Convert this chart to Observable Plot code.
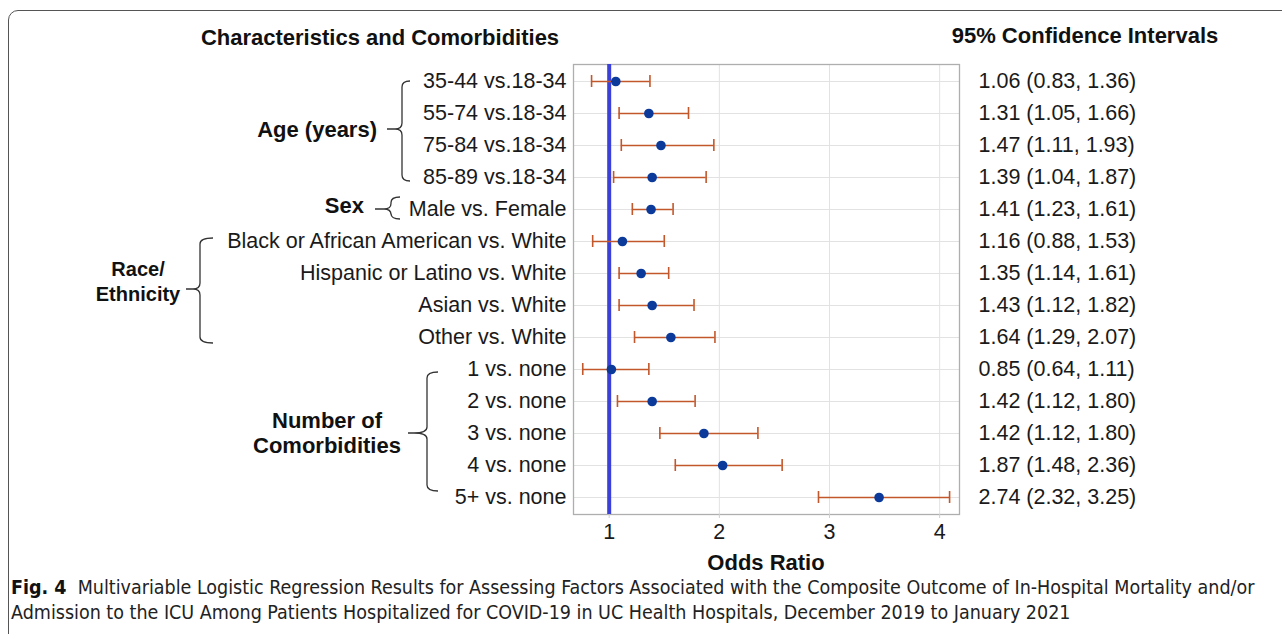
<!DOCTYPE html>
<html>
<head>
<meta charset="utf-8">
<script src="https://cdn.jsdelivr.net/npm/d3@7"></script>
<script src="https://cdn.jsdelivr.net/npm/@observablehq/plot@0.6"></script>
<style>
  html, body { margin: 0; padding: 0; background: #fff; }
  #wrap { position: relative; width: 1282px; height: 634px; overflow: hidden; }
  #border { position: absolute; left: 8px; top: 10px; width: 1400px; height: 700px;
            border: 1.3px solid #555; border-top-left-radius: 10px; box-sizing: border-box; }
  #chart { position: absolute; left: 0; top: 0; }
  #caption { position: absolute; left: 11px; top: 575px; width: 1270px; white-space: nowrap;
             font-family: "DejaVu Sans Condensed", "Liberation Sans Narrow", sans-serif;
             font-stretch: condensed; font-size: 19.5px; line-height: 25px; color: #222; }
  #caption b { color: #111; }
</style>
</head>
<body>
<div id="wrap">
  <div id="border"></div>
  <div id="chart"></div>
  <div id="caption"><b>Fig. 4</b>&nbsp; Multivariable Logistic Regression Results for Assessing Factors Associated with the Composite Outcome of In-Hospital Mortality and/or<br>Admission to the ICU Among Patients Hospitalized for COVID-19 in UC Health Hospitals, December 2019 to January 2021</div>
</div>
<script>
// ---- data ----
const rowLabels = [
  "35-44 vs.18-34", "55-74 vs.18-34", "75-84 vs.18-34", "85-89 vs.18-34",
  "Male vs. Female",
  "Black or African American vs. White", "Hispanic or Latino vs. White", "Asian vs. White", "Other vs. White",
  "1 vs. none", "2 vs. none", "3 vs. none", "4 vs. none", "5+ vs. none"
];
const oddsRatio = [1.06, 1.36, 1.47, 1.39, 1.38, 1.12, 1.29, 1.39, 1.56, 1.02, 1.39, 1.86, 2.03, 3.45];
const lowerCI   = [0.84, 1.09, 1.11, 1.04, 1.21, 0.85, 1.09, 1.09, 1.23, 0.76, 1.075, 1.46, 1.60, 2.90];
const upperCI   = [1.37, 1.72, 1.95, 1.88, 1.58, 1.50, 1.54, 1.77, 1.96, 1.36, 1.78, 2.35, 2.57, 4.09];
const ciText = [
  "1.06 (0.83, 1.36)", "1.31 (1.05, 1.66)", "1.47 (1.11, 1.93)", "1.39 (1.04, 1.87)",
  "1.41 (1.23, 1.61)",
  "1.16 (0.88, 1.53)", "1.35 (1.14, 1.61)", "1.43 (1.12, 1.82)", "1.64 (1.29, 2.07)",
  "0.85 (0.64, 1.11)", "1.42 (1.12, 1.80)", "1.42 (1.12, 1.80)", "1.87 (1.48, 2.36)", "2.74 (2.32, 3.25)"
];
const xTicks = [1, 2, 3, 4];
const groupNames = [["Age (years)"], ["Sex"], ["Race/", "Ethnicity"], ["Number of", "Comorbidities"]];
const groupFirst = [0, 4, 5, 9];
const groupLast  = [3, 4, 8, 13];

const data = rowLabels.map((label, i) => ({label, or: oddsRatio[i], lo: lowerCI[i], hi: upperCI[i], ci: ciText[i]}));

const whisker = "#c2572b";
const dotColor = "#0b3a9a";
const fontFam = "'Liberation Sans', Arial, Helvetica, sans-serif";
const fs = 21.5;

const plot = Plot.plot({
  width: 1282, height: 578,
  marginTop: 64, marginBottom: 64, marginLeft: 573, marginRight: 323,
  style: {fontFamily: fontFam, fontSize: fs + "px", color: "#1a1a1a", background: "transparent", overflow: "visible"},
  x: {domain: [0.676, 4.18], ticks: xTicks, tickFormat: d => String(d), label: null},
  y: {domain: rowLabels, type: "band", padding: 0, label: null},
  marks: [
    Plot.gridX(xTicks, {stroke: "#e2e2e2", strokeOpacity: 1}),
    Plot.gridY({stroke: "#e2e2e2", strokeOpacity: 1}),
    Plot.frame({stroke: "#aeaeae", strokeWidth: 1.3}),
    Plot.ruleX([1], {stroke: "#3b40d8", strokeWidth: 4}),
    Plot.ruleY(data, {y: "label", x1: "lo", x2: "hi", stroke: whisker, strokeWidth: 1.6}),
    Plot.tickX(data, {y: "label", x: "lo", stroke: whisker, strokeWidth: 1.6, insetTop: 10, insetBottom: 10}),
    Plot.tickX(data, {y: "label", x: "hi", stroke: whisker, strokeWidth: 1.6, insetTop: 10, insetBottom: 10}),
    Plot.dot(data, {y: "label", x: "or", r: 4.8, fill: dotColor, stroke: null}),
    Plot.axisX({ticks: xTicks, tickFormat: d => String(d), tickSize: 4, stroke: "#cfcfcf", fill: "#1a1a1a", tickPadding: 5, fontSize: fs, label: null}),
    Plot.axisY({tickSize: 0, tickPadding: 7, fontSize: fs, fill: "#1a1a1a", label: null}),
    Plot.text(data, {y: "label", text: "ci", frameAnchor: "right", dx: 19, textAnchor: "start", fontSize: fs, fill: "#1a1a1a"})
  ]
});
document.getElementById("chart").appendChild(plot);

// ---- annotations (headers, group labels, braces) ----
const svg = d3.select(plot);
const ys = plot.scale("y");
const yc = i => ys.apply(rowLabels[i]) + ys.bandwidth / 2;
const xs = plot.scale("x");

const ann = svg.append("g").attr("font-family", fontFam).attr("fill", "#111");
ann.append("text").attr("x", 380).attr("y", 37).attr("dy", "0.35em").attr("text-anchor", "middle")
  .attr("font-size", 22).attr("font-weight", "bold").text("Characteristics and Comorbidities");
ann.append("text").attr("x", 1085).attr("y", 35).attr("dy", "0.35em").attr("text-anchor", "middle")
  .attr("font-size", 22).attr("font-weight", "bold").text("95% Confidence Intervals");
ann.append("text").attr("x", (xs.range[0] + xs.range[1]) / 2).attr("y", 562).attr("dy", "0.35em")
  .attr("text-anchor", "middle").attr("font-size", 22).attr("font-weight", "bold").text("Odds Ratio");

// brace helper
function brace(xv, y0, y1, ym, xHook, xCusp, dashLen) {
  const r = Math.min(6, (y1 - y0) / 4);
  const d = `M${xHook},${y0} Q${xv},${y0} ${xv},${y0 + r} L${xv},${ym - r} Q${xv},${ym} ${xCusp},${ym}` +
            ` Q${xv},${ym} ${xv},${ym + r} L${xv},${y1 - r} Q${xv},${y1} ${xHook},${y1}` +
            ` M${xCusp},${ym} L${xCusp - dashLen},${ym}`;
  ann.append("path").attr("d", d).attr("fill", "none").attr("stroke", "#333").attr("stroke-width", 1.3);
}
const layout = [
  {xv: 402, xHook: 410, xCusp: 395, dash: 8, lx: 377, anchor: "end", off: 0, t: 0, b: 4, size: 22},
  {xv: 391, xHook: 400, xCusp: 384, dash: 9, lx: 364, anchor: "end", off: -4, t: -12, b: 10, size: 22},
  {xv: 200, xHook: 213, xCusp: 193, dash: 7, lx: 138, anchor: "middle", off: -8, t: -3, b: 6, size: 20},
  {xv: 427, xHook: 438, xCusp: 414, dash: 6, lx: 327, anchor: "middle", off: 0, t: 3, b: -6, size: 22}
];
groupNames.forEach((lines, g) => {
  const L = layout[g];
  const y0 = yc(groupFirst[g]) + L.t, y1 = yc(groupLast[g]) + L.b;
  const ym = (yc(groupFirst[g]) + yc(groupLast[g])) / 2;
  brace(L.xv, y0, y1, ym, L.xHook, L.xCusp, L.dash);
  const t = ann.append("text").attr("text-anchor", L.anchor).attr("font-size", L.size).attr("font-weight", "bold");
  const lh = 25;
  lines.forEach((s, k) => {
    t.append("tspan").attr("x", L.lx)
      .attr("y", ym + L.off + (k - (lines.length - 1) / 2) * lh).attr("dy", "0.35em").text(s);
  });
});
</script>
</body>
</html>
